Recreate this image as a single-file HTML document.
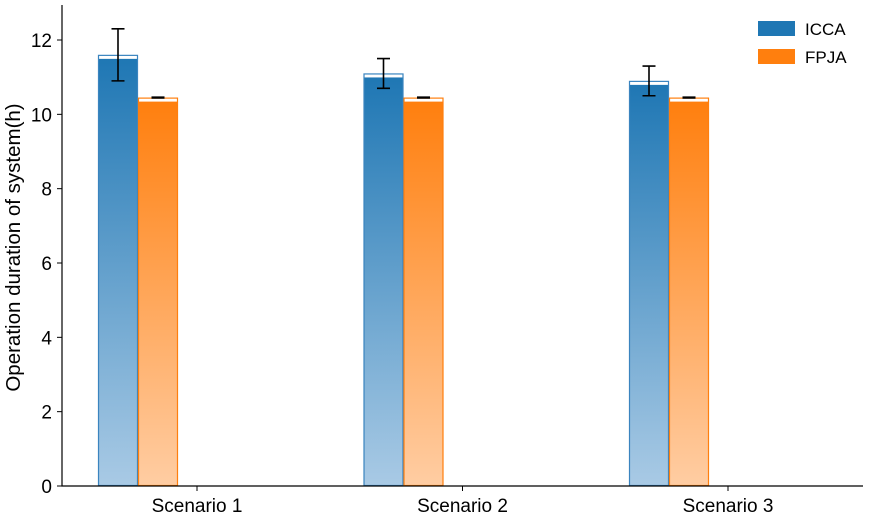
<!DOCTYPE html>
<html><head><meta charset="utf-8"><style>
body{margin:0;background:#fff}
svg{display:block;font-family:"Liberation Sans",Arial,sans-serif}
</style></head><body>
<svg id="chart" width="871" height="515">
<defs>
<linearGradient id="gb" x1="0" y1="0" x2="0" y2="1"><stop offset="0" stop-color="#1f77b4"/><stop offset="1" stop-color="#a9cae5"/></linearGradient>
<linearGradient id="go" x1="0" y1="0" x2="0" y2="1"><stop offset="0" stop-color="#ff7f0e"/><stop offset="1" stop-color="#ffcda3"/></linearGradient>
</defs>
<g id="plot"></g>
</svg>
<script>
const categories=["Scenario 1","Scenario 2","Scenario 3"];
const seriesNames=["ICCA","FPJA"];
const iccaValues=[11.6,11.1,10.9];
const iccaLow=[10.9,10.7,10.5];
const iccaHigh=[12.3,11.5,11.3];
const fpjaValues=[10.45,10.45,10.45];
const fpjaLow=[10.44,10.44,10.44];
const fpjaHigh=[10.46,10.46,10.46];
const yTicks=[0,2,4,6,8,10,12];

const NS="http://www.w3.org/2000/svg";
const g=document.getElementById('plot');
const X0=62,X1=863,Y0=486,Y1=5;
const y=v=>Y0-v*(Y0-40)/12;
const xc=i=>197+i*265.5;
function mk(t,a,p){const e=document.createElementNS(NS,t);for(const k in a)e.setAttribute(k,a[k]);(p||g).appendChild(e);return e;}

yTicks.forEach(t=>{
  const l=mk('line',{x1:X0-5,x2:X0,y1:y(t),y2:y(t),stroke:'#000','stroke-width':1});
  
  
  const tx=mk('text',{x:X0-10,y:y(t)+7,'text-anchor':'end','font-size':19});
  tx.textContent=t;
  
  
});
categories.forEach((c,i)=>{
  const l=mk('line',{x1:xc(i),x2:xc(i),y1:Y0,y2:Y0+5,stroke:'#000'});
  
  
  const tx=mk('text',{x:xc(i),y:Y0+26,'text-anchor':'middle','font-size':19});
  tx.textContent=c;
  
  
});
const series=[
 {vals:iccaValues,lo:iccaLow,hi:iccaHigh,off:-99,grad:'url(#gb)',stroke:'#3a84bf'},
 {vals:fpjaValues,lo:fpjaLow,hi:fpjaHigh,off:-59,grad:'url(#go)',stroke:'#ff7f0e'}
];
series.forEach((s,si)=>{
  s.vals.forEach((v,i)=>{
    const x=xc(i)+s.off,w=40,top=y(v);
    const f=mk('rect',{x:x,y:top+4,width:w,height:Y0-top-4,fill:s.grad});
    
    
    const o=mk('rect',{x:x+0.5,y:top+0.5,width:w-1,height:Y0-top-1,fill:'none',stroke:s.stroke,'stroke-width':1.2});
    
    
    const cx=x+w/2;
    const e=mk('path',{d:`M${cx},${y(s.lo[i])}V${y(s.hi[i])}M${cx-6.5},${y(s.lo[i])}H${cx+6.5}M${cx-6.5},${y(s.hi[i])}H${cx+6.5}`,stroke:'#000','stroke-width':1.6,fill:'none'});
    
    
  });
});
const ax=mk('path',{d:`M${X0},${Y1}V${Y0}H${X1}`,stroke:'#000','stroke-width':1.2,fill:'none'});


const yt=mk('text',{x:0,y:0,transform:`translate(20,${(Y0+Y1)/2+2}) rotate(-90)`,'text-anchor':'middle','font-size':20.5});
yt.textContent='Operation duration of system(h)';


[['#1f77b4','ICCA'],['#ff7f0e','FPJA']].forEach((d,i)=>{
  const r=mk('rect',{x:758,y:21+i*28,width:37,height:15,fill:d[0]});
  
  
  const t=mk('text',{x:805,y:35+i*28,'font-size':17});
  t.textContent=d[1];
  
  
});
</script>
</body></html>
